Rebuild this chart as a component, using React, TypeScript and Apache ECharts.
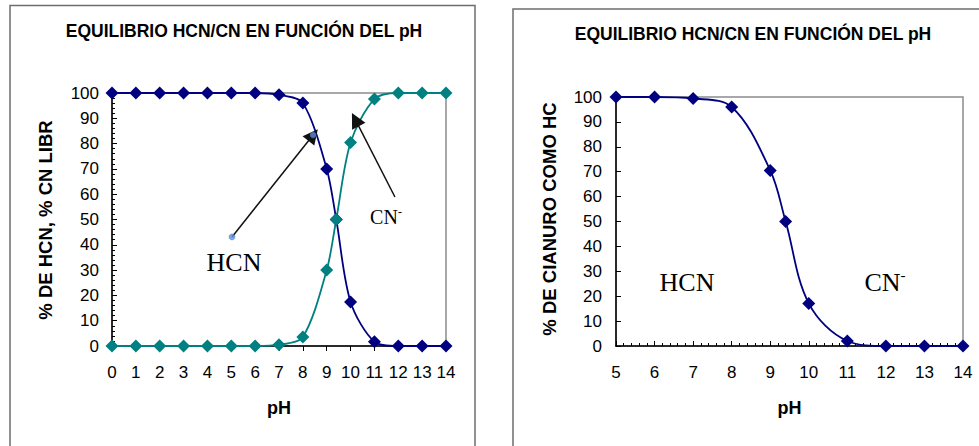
import { useEffect, useRef } from "react";
import * as echarts from "echarts";

// left chart: HCN and CN- vs pH
const phLeft = [0, 1, 2, 3, 4, 5, 6, 7, 8, 9, 9.4, 10, 11, 12, 13, 14];
const hcnLeft = [100, 100, 100, 100, 100, 100, 100, 99.3, 96, 70, 50, 17.4, 1.7, 0, 0, 0];
const cnLeft = [0, 0, 0, 0, 0, 0, 0, 0.5, 3.6, 30, 50, 80.4, 97.6, 100, 100, 100];

// right chart: % cyanide as HCN
const phRight = [5, 6, 7, 8, 9, 9.4, 10, 11, 12, 13, 14];
const hcnRight = [100, 100, 99.4, 96, 70.5, 50, 17.1, 2, 0, 0, 0];

// arrow annotations (pH, %)
const hcnArrow = [[5.03, 43.1], [8.43, 83.4]];
const cnArrow = [[11.86, 58.9], [10.2, 89.5]];

const TITLE = "EQUILIBRIO HCN/CN EN FUNCIÓN DEL pH";
const NAVY = "#000080";
const TEAL = "#008080";
const SANS = "'Liberation Sans', Arial, sans-serif";
const SERIF = "'Liberation Serif', 'Times New Roman', serif";

const pairs = (xs: number[], ys: number[]) => xs.map((x, i) => [x, ys[i]]);

const App = () => {
  const chartRef = useRef<HTMLDivElement>(null);

  useEffect(() => {
    if (!chartRef.current) return;
    const chart = echarts.init(chartRef.current, null, { renderer: "svg" });

    const label = { color: "#000", fontSize: 17, fontFamily: SANS };
    const axisLine = { lineStyle: { color: "#000", width: 1.5 } };
    const nameStyle = { color: "#000", fontSize: 18, fontWeight: "bold", fontFamily: SANS };

    chart.setOption({
      animation: false,
      backgroundColor: "#fff",
      grid: [
        { left: 112, right: 533, top: 93, bottom: 100, show: true, borderColor: "#8c8c8c", borderWidth: 1.5, backgroundColor: "transparent" },
        { left: 616, right: 16, top: 97, bottom: 100, show: true, borderColor: "#8c8c8c", borderWidth: 1.5, backgroundColor: "transparent" },
      ],
      xAxis: [
        {
          type: "value", gridIndex: 0, min: 0, max: 14, interval: 1,
          name: "pH", nameLocation: "middle", nameGap: 53, nameTextStyle: nameStyle,
          axisLine, axisTick: { show: true, inside: false, length: 5, lineStyle: { color: "#000" } },
          axisLabel: { ...label, margin: 18 }, splitLine: { show: false },
        },
        {
          type: "value", gridIndex: 1, min: 5, max: 14, interval: 1,
          name: "pH", nameLocation: "middle", nameGap: 53, nameTextStyle: nameStyle,
          axisLine, axisTick: { show: true, inside: true, length: 5, lineStyle: { color: "#000" } },
          minorTick: { show: true, splitNumber: 5, length: 3, lineStyle: { color: "#000" } },
          axisLabel: { ...label, margin: 18 }, splitLine: { show: false },
        },
      ],
      yAxis: [
        {
          type: "value", gridIndex: 0, min: 0, max: 100, interval: 10,
          axisLine, axisTick: { show: true, inside: true, length: 5, lineStyle: { color: "#000" } },
          minorTick: { show: true, splitNumber: 5, length: 3, lineStyle: { color: "#000" } },
          axisLabel: { ...label, margin: 13 }, splitLine: { show: false },
        },
        {
          type: "value", gridIndex: 1, min: 0, max: 100, interval: 10,
          axisLine, axisTick: { show: true, inside: true, length: 5, lineStyle: { color: "#000" } },
          axisLabel: { ...label, margin: 14 }, splitLine: { show: false },
        },
      ],
      series: [
        {
          name: "HCN", type: "line", xAxisIndex: 0, yAxisIndex: 0, clip: false,
          data: pairs(phLeft, hcnLeft), smooth: 0.3,
          symbol: "diamond", symbolSize: 13,
          lineStyle: { color: NAVY, width: 1.8 }, itemStyle: { color: NAVY },
          markLine: {
            silent: true, symbol: ["none", "triangle"], symbolSize: 15,
            lineStyle: { color: "#111", width: 1.5, type: "solid" },
            label: { show: false },
            data: [
              [{ coord: hcnArrow[0] }, { coord: hcnArrow[1] }],
              [{ coord: cnArrow[0] }, { coord: cnArrow[1] }],
            ],
          },
        },
        {
          name: "CN-", type: "line", xAxisIndex: 0, yAxisIndex: 0, clip: false,
          data: pairs(phLeft, cnLeft), smooth: 0.3,
          symbol: "diamond", symbolSize: 13,
          lineStyle: { color: TEAL, width: 1.8 }, itemStyle: { color: TEAL },
        },
        {
          name: "arrow ends", type: "scatter", xAxisIndex: 0, yAxisIndex: 0, z: 5,
          data: hcnArrow, symbol: "circle", symbolSize: 6,
          itemStyle: { color: "#5b8fd9", borderColor: "#3b6fc0", borderWidth: 0.5 },
        },
        {
          name: "HCN %", type: "line", xAxisIndex: 1, yAxisIndex: 1, clip: false,
          data: pairs(phRight, hcnRight), smooth: 0.35,
          symbol: "diamond", symbolSize: 13,
          lineStyle: { color: NAVY, width: 1.8 }, itemStyle: { color: NAVY },
        },
      ],
      graphic: [
        { type: "rect", shape: { x: 10, y: 5.5, width: 465, height: 470 }, style: { fill: "none", stroke: "#6e6e6e", lineWidth: 1.5 }, silent: true },
        { type: "rect", shape: { x: 513, y: 9, width: 480, height: 470 }, style: { fill: "none", stroke: "#6e6e6e", lineWidth: 1.5 }, silent: true },
        { type: "text", x: 244, y: 31, style: { text: TITLE, fill: "#000", font: `bold 17.5px ${SANS}`, align: "center", verticalAlign: "middle" } },
        { type: "text", x: 753, y: 34, style: { text: TITLE, fill: "#000", font: `bold 17.5px ${SANS}`, align: "center", verticalAlign: "middle" } },
        { type: "text", x: 45, y: 220, rotation: Math.PI / 2, style: { text: "% DE HCN, % CN LIBR", fill: "#000", font: `bold 18.5px ${SANS}`, align: "center", verticalAlign: "middle" } },
        { type: "text", x: 549, y: 219, rotation: Math.PI / 2, style: { text: "% DE CIANURO COMO HC", fill: "#000", font: `bold 18.5px ${SANS}`, align: "center", verticalAlign: "middle" } },
        { type: "text", x: 234, y: 262, style: { text: "HCN", fill: "#000", font: `26px ${SERIF}`, align: "center", verticalAlign: "middle" } },
        {
          type: "text", x: 386, y: 217,
          style: {
            text: "CN{s|-}", fill: "#000", font: `20px ${SERIF}`, align: "center", verticalAlign: "middle",
            rich: { s: { fontSize: 12, fontFamily: SERIF, verticalAlign: "top", padding: [0, 0, 10, 0] } },
          },
        },
        { type: "text", x: 687, y: 282, style: { text: "HCN", fill: "#000", font: `26px ${SERIF}`, align: "center", verticalAlign: "middle" } },
        {
          type: "text", x: 885, y: 282,
          style: {
            text: "CN{s|-}", fill: "#000", font: `26px ${SERIF}`, align: "center", verticalAlign: "middle",
            rich: { s: { fontSize: 15, fontFamily: SERIF, padding: [0, 0, 14, 0] } },
          },
        },
      ],
    });

    return () => {
      chart.dispose();
    };
  }, []);

  return (
    <div
      ref={chartRef}
      style={{ position: "absolute", left: 0, top: 0, width: "979px", height: "446px", background: "#fff" }}
    ></div>
  );
};

export default App;
